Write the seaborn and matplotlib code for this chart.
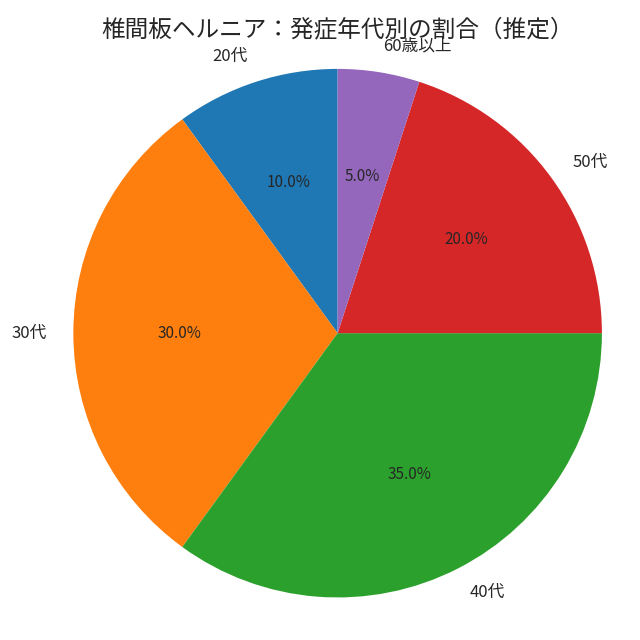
import matplotlib
matplotlib.use("Agg")
import matplotlib.pyplot as plt
import seaborn as sns

sns.set_theme(style="white")
plt.rcParams['font.family'] = ['Noto Sans CJK JP', 'DejaVu Sans']

categories = ["20代", "30代", "40代", "50代", "60歳以上"]
values = [10, 30, 35, 20, 5]
title = "椎間板ヘルニア：発症年代別の割合（推定）"

colors = sns.color_palette("tab10", 5)

fig, ax = plt.subplots(figsize=(6.4, 6.4), dpi=100)
wedges, texts, autotexts = ax.pie(values, labels=categories, colors=colors,
                                  autopct="%1.1f%%", startangle=90,
                                  wedgeprops={"linewidth": 0},
                                  textprops={"fontsize": 12})
for t in autotexts:
    t.set_fontsize(11)
ax.set_title(title, fontsize=17)
ax.axis("equal")
fig.tight_layout()
fig.savefig("out.png", dpi=100)
